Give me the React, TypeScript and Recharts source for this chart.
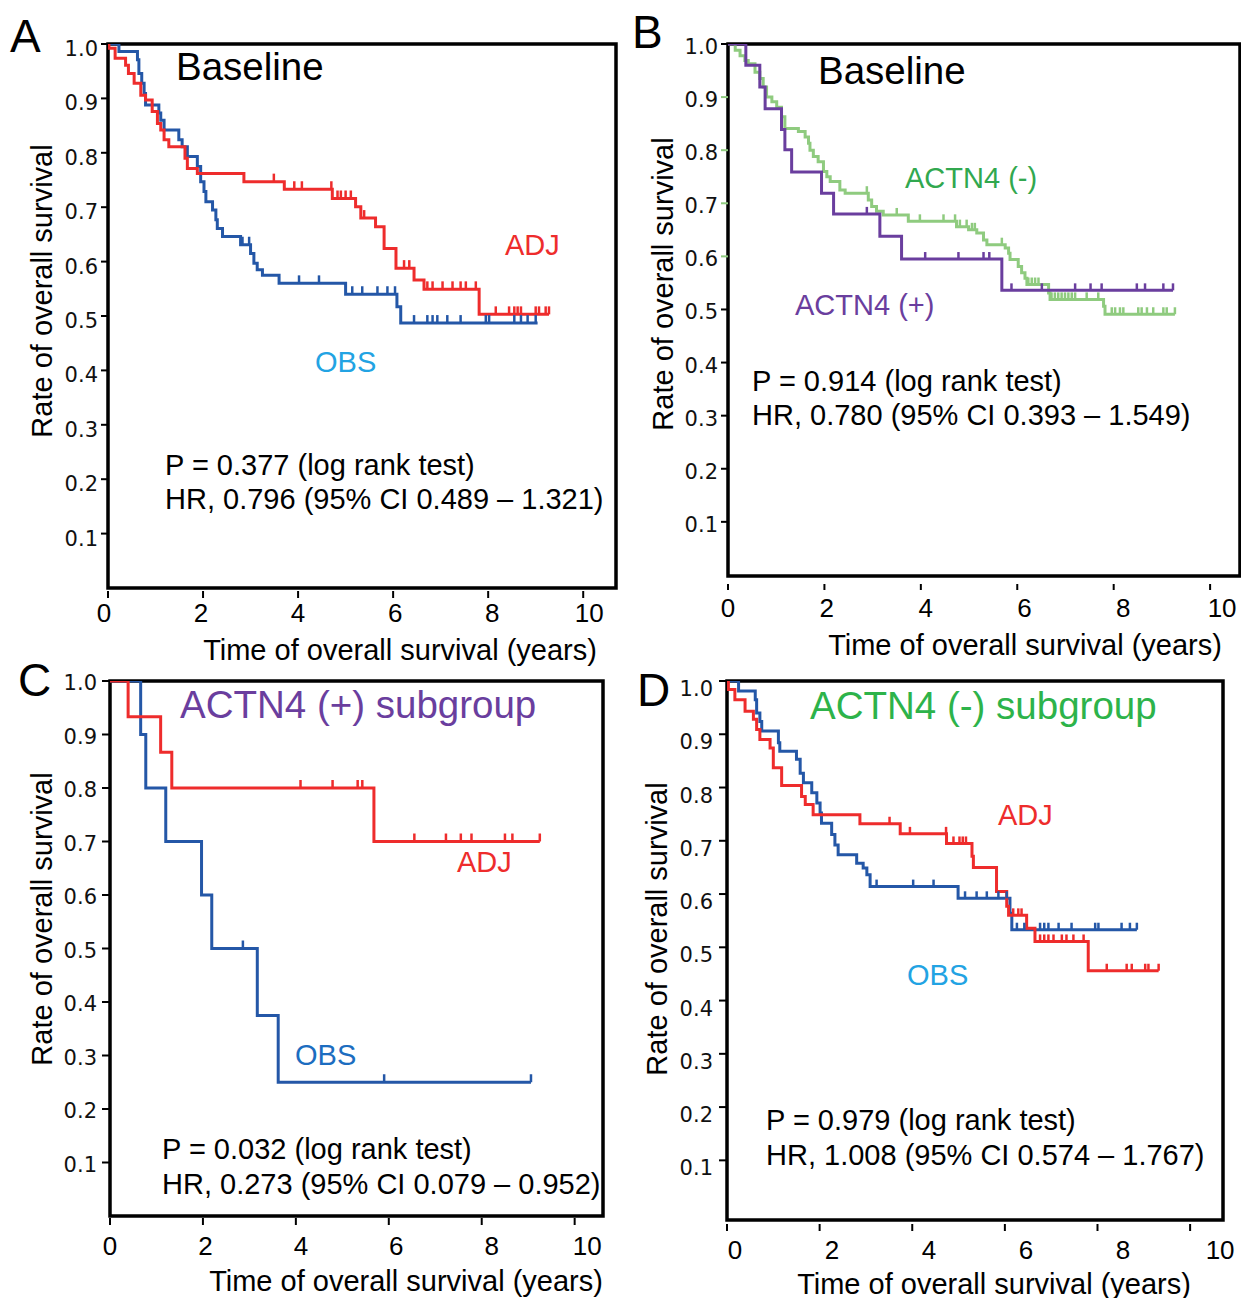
import React from "react";
import { ComposedChart, Line, Scatter, XAxis, YAxis, ReferenceArea } from "recharts";

// ---------------- shared ticks ----------------
const xTicks = [0, 2, 4, 6, 8, 10];
const yTicks = [0.1, 0.2, 0.3, 0.4, 0.5, 0.6, 0.7, 0.8, 0.9, 1.0];

// ---------------- Panel A (baseline, ADJ vs OBS) ----------------
const aAdjTimes = [0, 0.02, 0.15, 0.37, 0.43, 0.55, 0.69, 0.79, 0.93, 1.04, 1.11, 1.18, 1.28, 1.62, 1.67, 1.88, 2.86, 3.71, 4.72, 5.21, 5.32, 5.63, 5.81, 6.06, 6.44, 6.65, 7.81, 9.28];
const aAdjSurv = [1.0, 0.992, 0.974, 0.961, 0.946, 0.928, 0.906, 0.897, 0.876, 0.854, 0.842, 0.824, 0.811, 0.79, 0.771, 0.762, 0.747, 0.733, 0.716, 0.701, 0.68, 0.664, 0.624, 0.588, 0.566, 0.549, 0.503, 0.503];
const aAdjCensor = [3.49, 3.92, 4.08, 4.7, 4.83, 4.9, 5.0, 5.11, 5.39, 6.23, 6.34, 6.72, 6.83, 7.04, 7.25, 7.42, 7.53, 7.74, 8.16, 8.44, 8.55, 8.62, 8.69, 9.0, 9.07, 9.21, 9.28];
const aObsTimes = [0, 0.23, 0.62, 0.65, 0.71, 0.76, 0.79, 1.07, 1.11, 1.18, 1.49, 1.56, 1.67, 1.88, 1.95, 2.02, 2.06, 2.2, 2.27, 2.3, 2.41, 2.79, 3.0, 3.07, 3.14, 3.25, 3.6, 5.0, 6.08, 6.16, 9.04];
const aObsSurv = [1.0, 0.986, 0.971, 0.946, 0.928, 0.909, 0.888, 0.873, 0.86, 0.842, 0.824, 0.811, 0.793, 0.775, 0.747, 0.729, 0.71, 0.695, 0.677, 0.661, 0.646, 0.631, 0.615, 0.597, 0.585, 0.575, 0.56, 0.54, 0.517, 0.487, 0.487];
const aObsCensor = [2.83, 2.97, 4.02, 4.44, 5.14, 5.35, 5.67, 5.88, 6.04, 6.44, 6.72, 6.83, 6.93, 7.14, 7.42, 7.95, 8.02, 8.55, 8.69, 8.83, 9.0];

// ---------------- Panel B (baseline, ACTN4 + vs -) ----------------
const bPosTimes = [0, 0.37, 0.66, 0.77, 1.11, 1.18, 1.32, 1.94, 2.19, 3.15, 3.6, 5.68, 9.23];
const bPosSurv = [1.0, 0.96, 0.919, 0.878, 0.839, 0.801, 0.759, 0.719, 0.68, 0.638, 0.595, 0.536, 0.536];
const bPosCensor = [2.88, 4.09, 4.78, 5.3, 5.42, 5.88, 6.51, 7.2, 7.52, 7.75, 8.48, 8.65, 9.03, 9.23];
const bNegTimes = [0, 0.15, 0.25, 0.35, 0.42, 0.56, 0.66, 0.73, 0.8, 0.91, 1.01, 1.11, 1.18, 1.46, 1.6, 1.67, 1.7, 1.77, 1.87, 1.98, 2.05, 2.12, 2.32, 2.43, 2.91, 2.98, 3.08, 3.22, 3.74, 4.74, 4.99, 5.16, 5.3, 5.37, 5.75, 5.82, 5.85, 6.02, 6.09, 6.16, 6.2, 6.65, 6.68, 7.79, 7.82, 9.27];
const bNegSurv = [1.0, 0.988, 0.978, 0.969, 0.963, 0.947, 0.935, 0.919, 0.9, 0.891, 0.881, 0.863, 0.841, 0.835, 0.825, 0.813, 0.8, 0.788, 0.778, 0.76, 0.75, 0.741, 0.725, 0.719, 0.706, 0.694, 0.685, 0.678, 0.666, 0.656, 0.65, 0.644, 0.631, 0.622, 0.616, 0.606, 0.594, 0.581, 0.569, 0.559, 0.547, 0.531, 0.519, 0.506, 0.491, 0.491];
const bNegCensor = [2.88, 3.5, 3.98, 4.47, 4.71, 4.81, 4.95, 5.06, 5.12, 5.68, 6.23, 6.3, 6.37, 6.44, 6.71, 6.78, 6.85, 6.92, 6.99, 7.06, 7.13, 7.2, 7.44, 7.68, 7.96, 8.03, 8.13, 8.2, 8.51, 8.58, 8.69, 8.82, 9.03, 9.1, 9.27];

// ---------------- Panel C (ACTN4 + subgroup) ----------------
const cAdjTimes = [0, 0.39, 1.09, 1.33, 5.68, 9.25];
const cAdjSurv = [1.0, 0.933, 0.867, 0.8, 0.7, 0.7];
const cAdjCensor = [4.1, 4.79, 5.33, 5.43, 6.55, 7.23, 7.55, 7.78, 8.5, 8.66, 9.25];
const cObsTimes = [0, 0.66, 0.77, 1.2, 1.97, 2.19, 3.17, 3.62, 9.06];
const cObsSurv = [1.0, 0.9, 0.8, 0.7, 0.6, 0.5, 0.375, 0.25, 0.25];
const cObsCensor = [2.86, 5.9, 9.06];

// ---------------- Panel D (ACTN4 - subgroup) ----------------
const dAdjTimes = [0, 0.03, 0.17, 0.39, 0.57, 0.64, 0.71, 0.93, 1.0, 1.18, 1.61, 1.69, 1.86, 2.87, 3.74, 4.74, 5.29, 5.32, 5.82, 6.04, 6.08, 6.47, 6.65, 7.8, 9.32];
const dAdjSurv = [1.0, 0.984, 0.965, 0.943, 0.928, 0.909, 0.89, 0.874, 0.837, 0.804, 0.783, 0.768, 0.749, 0.732, 0.713, 0.695, 0.671, 0.65, 0.605, 0.577, 0.56, 0.536, 0.511, 0.456, 0.456];
const dAdjCensor = [3.51, 3.95, 4.73, 4.89, 5.02, 5.09, 5.16, 6.18, 6.29, 6.36, 6.76, 6.85, 6.94, 7.05, 7.23, 7.33, 7.48, 7.7, 8.2, 8.63, 8.74, 9.03, 9.1, 9.32];
const dObsTimes = [0, 0.25, 0.61, 0.64, 0.71, 0.75, 1.11, 1.14, 1.5, 1.58, 1.65, 1.83, 1.94, 2.01, 2.04, 2.26, 2.33, 2.4, 2.8, 2.94, 3.02, 3.09, 4.99, 6.11, 6.15, 8.85];
const dObsSurv = [1.0, 0.981, 0.965, 0.94, 0.924, 0.906, 0.884, 0.868, 0.853, 0.827, 0.809, 0.79, 0.771, 0.752, 0.733, 0.712, 0.692, 0.674, 0.658, 0.649, 0.636, 0.614, 0.592, 0.564, 0.533, 0.533];
const dObsCensor = [3.23, 4.02, 4.46, 5.14, 5.39, 5.61, 5.86, 6.04, 6.26, 6.42, 6.76, 6.85, 6.94, 7.16, 7.44, 7.95, 8.02, 8.52, 8.7, 8.85];

// ---------------- annotations ----------------
const statsA = ["P = 0.377 (log rank test)", "HR, 0.796 (95% CI 0.489 \u2013 1.321)"];
const statsB = ["P = 0.914 (log rank test)", "HR, 0.780 (95% CI 0.393 \u2013 1.549)"];
const statsC = ["P = 0.032 (log rank test)", "HR, 0.273 (95% CI 0.079 \u2013 0.952)"];
const statsD = ["P = 0.979 (log rank test)", "HR, 1.008 (95% CI 0.574 \u2013 1.767)"];
const xTitle = "Time of overall survival (years)";
const yTitle = "Rate of overall survival";

// ---------------- styles ----------------
const RED = "#ee2c2c";
const BLUE = "#2457a7";
const PURPLE = "#6a3e9e";
const LGREEN = "#8fcb7f";
const SANS = '"Liberation Sans", Arial, Helvetica, sans-serif';
const TICKFONT = '"DejaVu Sans", Verdana, sans-serif';

type Curve = { times: number[]; surv: number[]; censor: number[]; color: string; sw: number; tick: number };
type XT = { gap: number; len: number; off: number; k: number; c: number };
type YT = { dx: number; dy: number; len: number; greens?: number[] };

const stepData = (times: number[], surv: number[]) => times.map((t, i) => ({ t, s: surv[i] }));
const censorData = (ct: number[], times: number[], surv: number[]) =>
  ct.map((c) => {
    let s = surv[0];
    for (let i = 0; i < times.length; i++) if (times[i] <= c + 1e-9) s = surv[i];
    return { t: c, s };
  });

const makeXTick = (xt: XT) => (props: any) => {
  const { x, y, payload } = props;
  const v = payload.value;
  return (
    <g>
      <line x1={x} x2={x} y1={y + xt.gap} y2={y + xt.gap + xt.len} stroke="#000" strokeWidth={2} />
      <text x={x + xt.c + xt.k * v} y={y + xt.off} textAnchor="middle" dominantBaseline="central" fontFamily={SANS} fontSize={26} fill="#000">
        {v}
      </text>
    </g>
  );
};

const makeYTick = (yt: YT) => (props: any) => {
  const { x, y, payload } = props;
  const v = payload.value as number;
  const green = yt.greens ? yt.greens.some((g) => Math.abs(g - v) < 1e-6) : false;
  return (
    <g>
      <line x1={x - yt.len} x2={x} y1={y} y2={y} stroke={green ? LGREEN : "#000"} strokeWidth={2} />
      <text x={x - yt.dx} y={y + yt.dy} textAnchor="end" dominantBaseline="central" fontFamily={TICKFONT} fontSize={21} fill="#111">
        {v.toFixed(1)}
      </text>
    </g>
  );
};

type PanelProps = {
  left: number; top: number; width: number; height: number;
  plotLeft: number; plotTop: number; plotRight: number; plotBottom: number;
  xMax: number; yMin: number; curves: Curve[]; xt: XT; yt: YT;
};

function Panel(p: PanelProps) {
  const yAxisW = 60;
  const margin = { top: p.plotTop - p.top, left: p.plotLeft - p.left - yAxisW, right: p.left + p.width - p.plotRight, bottom: 0 };
  const xAxisH = p.top + p.height - p.plotBottom;
  return (
    <div style={{ position: "absolute", left: p.left, top: p.top, width: p.width, height: p.height }}>
      <ComposedChart width={p.width} height={p.height} margin={margin}>
        <XAxis type="number" dataKey="t" domain={[0, p.xMax]} ticks={xTicks} interval={0} height={xAxisH}
          axisLine={false} tickLine={false} tickSize={0} tickMargin={0} tick={makeXTick(p.xt)} allowDataOverflow />
        <YAxis type="number" dataKey="s" domain={[p.yMin, 1]} ticks={yTicks} interval={0} width={yAxisW}
          axisLine={false} tickLine={false} tickSize={0} tickMargin={0} tick={makeYTick(p.yt)} allowDataOverflow />
        {p.curves.map((c, i) => (
          <Line key={"l" + i} data={stepData(c.times, c.surv)} dataKey="s" type="stepAfter" stroke={c.color}
            strokeWidth={c.sw} dot={false} activeDot={false} isAnimationActive={false} />
        ))}
        {p.curves.map((c, i) => (
          <Scatter key={"s" + i} data={censorData(c.censor, c.times, c.surv)} dataKey="s" isAnimationActive={false}
            shape={(sp: any) => (
              <line x1={sp.cx} x2={sp.cx} y1={sp.cy} y2={sp.cy - c.tick} stroke={c.color} strokeWidth={2.5} />
            )} />
        ))}
        <ReferenceArea x1={0} x2={p.xMax} y1={p.yMin} y2={1} fill="none" fillOpacity={0} stroke="#000" strokeWidth={3.5} ifOverflow="visible" />
      </ComposedChart>
    </div>
  );
}

type TxtProps = { x: number; y: number; children: React.ReactNode; size?: number; color?: string; mode?: "left" | "center" | "rot" };
function Txt({ x, y, children, size = 29, color = "#000", mode = "left" }: TxtProps) {
  const tr = mode === "left" ? "translate(0,-50%)" : mode === "center" ? "translate(-50%,-50%)" : "translate(-50%,-50%) rotate(-90deg)";
  return (
    <div style={{ position: "absolute", left: x, top: y, transform: tr, fontSize: size, color, fontFamily: SANS, lineHeight: 1, whiteSpace: "nowrap", pointerEvents: "none" }}>
      {children}
    </div>
  );
}

export default function App() {
  return (
    <div style={{ position: "absolute", left: 0, top: 0, width: 1241, height: 1298, background: "#fff", overflow: "hidden" }}>
      {/* Panel A */}
      <Panel left={0} top={0} width={620} height={640} plotLeft={108} plotTop={44} plotRight={616} plotBottom={588}
        xMax={10.69} yMin={0}
        curves={[
          { times: aObsTimes, surv: aObsSurv, censor: aObsCensor, color: BLUE, sw: 3, tick: 8 },
          { times: aAdjTimes, surv: aAdjSurv, censor: aAdjCensor, color: RED, sw: 3, tick: 8 },
        ]}
        xt={{ gap: 3, len: 7, off: 25, k: 1.0, c: -4 }} yt={{ dx: 10, dy: 5, len: 7 }} />
      {/* Panel B */}
      <Panel left={620} top={0} width={621} height={640} plotLeft={728} plotTop={44} plotRight={1240} plotBottom={576}
        xMax={10.62} yMin={-0.002}
        curves={[
          { times: bNegTimes, surv: bNegSurv, censor: bNegCensor, color: LGREEN, sw: 3, tick: 7 },
          { times: bPosTimes, surv: bPosSurv, censor: bPosCensor, color: PURPLE, sw: 3, tick: 7 },
        ]}
        xt={{ gap: 8, len: 6, off: 32, k: 1.2, c: 0 }} yt={{ dx: 10, dy: 3, len: 7, greens: [0.6, 0.7, 0.8, 0.9] }} />
      {/* Panel C */}
      <Panel left={0} top={650} width={620} height={630} plotLeft={110} plotTop={681} plotRight={603} plotBottom={1216}
        xMax={10.61} yMin={0}
        curves={[
          { times: cObsTimes, surv: cObsSurv, censor: cObsCensor, color: BLUE, sw: 3, tick: 8 },
          { times: cAdjTimes, surv: cAdjSurv, censor: cAdjCensor, color: RED, sw: 3, tick: 8 },
        ]}
        xt={{ gap: 2, len: 7, off: 30, k: 1.25, c: 0 }} yt={{ dx: 13, dy: 2, len: 8 }} />
      {/* Panel D */}
      <Panel left={620} top={650} width={621} height={630} plotLeft={727} plotTop={681} plotRight={1223} plotBottom={1220}
        xMax={10.71} yMin={-0.012}
        curves={[
          { times: dObsTimes, surv: dObsSurv, censor: dObsCensor, color: BLUE, sw: 3, tick: 7 },
          { times: dAdjTimes, surv: dAdjSurv, censor: dAdjCensor, color: RED, sw: 3, tick: 7 },
        ]}
        xt={{ gap: 4, len: 7, off: 30, k: 2.2, c: 8 }} yt={{ dx: 14, dy: 8, len: 8 }} />

      {/* Panel letters */}
      <Txt x={10} y={36} size={46}>A</Txt>
      <Txt x={632} y={32} size={46}>B</Txt>
      <Txt x={18} y={680} size={46}>C</Txt>
      <Txt x={637} y={690} size={46}>D</Txt>

      {/* Panel A text */}
      <Txt x={176} y={67} size={38.5}>Baseline</Txt>
      <Txt x={505} y={245} color={RED}>ADJ</Txt>
      <Txt x={315} y={362} color="#22a3e3">OBS</Txt>
      <Txt x={165} y={465}>{statsA[0]}</Txt>
      <Txt x={165} y={499}>{statsA[1]}</Txt>
      <Txt x={42} y={291} mode="rot">{yTitle}</Txt>
      <Txt x={400} y={650} mode="center">{xTitle}</Txt>

      {/* Panel B text */}
      <Txt x={818} y={71} size={38.5}>Baseline</Txt>
      <Txt x={905} y={178} color="#31a84f">ACTN4 (-)</Txt>
      <Txt x={795} y={305} color={PURPLE}>ACTN4 (+)</Txt>
      <Txt x={752} y={381}>{statsB[0]}</Txt>
      <Txt x={752} y={415}>{statsB[1]}</Txt>
      <Txt x={663} y={284} mode="rot">{yTitle}</Txt>
      <Txt x={1025} y={645} mode="center">{xTitle}</Txt>

      {/* Panel C text */}
      <Txt x={180} y={705} size={38.5} color={PURPLE}>ACTN4 (+) subgroup</Txt>
      <Txt x={457} y={862} color={RED}>ADJ</Txt>
      <Txt x={295} y={1055} color="#1c6dc0">OBS</Txt>
      <Txt x={162} y={1149}>{statsC[0]}</Txt>
      <Txt x={162} y={1184}>{statsC[1]}</Txt>
      <Txt x={42} y={919} mode="rot">{yTitle}</Txt>
      <Txt x={406} y={1281} mode="center">{xTitle}</Txt>

      {/* Panel D text */}
      <Txt x={810} y={706} size={38.5} color="#2db34a">ACTN4 (-) subgroup</Txt>
      <Txt x={998} y={815} color={RED}>ADJ</Txt>
      <Txt x={907} y={975} color="#22a3e3">OBS</Txt>
      <Txt x={766} y={1120}>{statsD[0]}</Txt>
      <Txt x={766} y={1155}>{statsD[1]}</Txt>
      <Txt x={657} y={929} mode="rot">{yTitle}</Txt>
      <Txt x={994} y={1284} mode="center">{xTitle}</Txt>
    </div>
  );
}
